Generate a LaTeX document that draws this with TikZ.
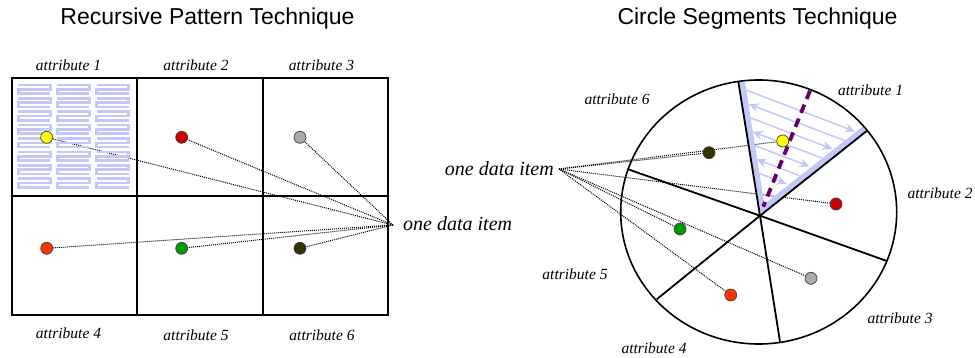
\documentclass[tikz,border=0pt]{standalone}
\usepackage{fontspec}
\setmainfont{Liberation Serif}
\newfontfamily\titlefont{Liberation Sans}
\usetikzlibrary{arrows.meta,calc}
\pgfdeclarelayer{bg}
\pgfsetlayers{bg,main}
\definecolor{patc}{RGB}{196,200,248}
\definecolor{dyellow}{RGB}{255,255,0}
\definecolor{dred}{RGB}{204,0,0}
\definecolor{dgray}{RGB}{170,170,170}
\definecolor{dorange}{RGB}{255,51,0}
\definecolor{dgreen}{RGB}{0,153,0}
\definecolor{ddark}{RGB}{51,51,0}
\definecolor{purp}{RGB}{102,0,102}
\begin{document}
\begin{tikzpicture}[x=1pt,y=-1pt,
  dot/.style={circle,draw=black!75,line width=0.7pt,inner sep=0pt,minimum size=12pt},
  dotline/.style={line width=1pt,dash pattern=on 1pt off 1pt},
  attr/.style={font=\fontsize{15.5}{18}\selectfont\itshape,inner sep=0pt},
  item/.style={font=\fontsize{20}{24}\selectfont\itshape,inner sep=0pt},
  ttl/.style={font=\titlefont\fontsize{23}{27}\selectfont,inner sep=0pt},
  patline/.style={draw=patc,line width=2.6pt},
  frame/.style={line width=2.2pt},
  seg/.style={line width=1.8pt},
]
\useasboundingbox (0,0) rectangle (975,358);

% titles
\node[ttl] (t1) at (207.5,19) {Recursive Pattern Technique};
\node[ttl] (t2) at (757.5,19) {Circle Segments Technique};

% ---------------- recursive pattern ----------------
\foreach \cx in {18.3,57.3,96.7}{
  \foreach \k in {0,...,7}{
    \draw[patline] ({\cx},{85+13.4*\k}) -- ++(32,0) -- ++(0,4.3) -- ++(-32,0) -- ++(0,4.3) -- ++(32,0);
  }
}
\draw[frame] (11.7,78.3) rectangle (388.3,315);
\draw[line width=1.8pt] (136.7,78.3) -- (136.7,315);
\draw[line width=1.8pt] (262.7,78.3) -- (262.7,315);
\draw[line width=2.8pt] (11.7,196) -- (388.3,196);

\node[dot,fill=dyellow] (a1) at (46.7,137.3) {};
\node[dot,fill=dred]    (a2) at (181.7,137.3) {};
\node[dot,fill=dgray]   (a3) at (300,137.3) {};
\node[dot,fill=dorange] (a4) at (46.7,248.3) {};
\node[dot,fill=dgreen]  (a5) at (181.7,248.3) {};
\node[dot,fill=ddark]   (a6) at (300,248.3) {};

\coordinate (p) at (393,225);
\node[item,anchor=west] (di1) at (403,224) {one data item};
\begin{pgfonlayer}{bg}
\foreach \n in {a1,a2,a3,a4,a5,a6}{ \draw[dotline] (p) -- (\n); }
\end{pgfonlayer}

\node[attr] (l1) at (68.5,65) {attribute 1};
\node[attr] (l2) at (196,65) {attribute 2};
\node[attr] (l3) at (321.5,65) {attribute 3};
\node[attr] (l4) at (68.5,333) {attribute 4};
\node[attr] (l5) at (196,335) {attribute 5};
\node[attr] (l6) at (322,335) {attribute 6};

% ---------------- circle segments ----------------
\begin{scope}
  \clip (758.7,212) ellipse [x radius=137, y radius=131];
  \draw[patc, line width=6pt, line join=round] (741.8,81.2) -- (762.2,209.4) -- (872,123);
  \coordinate (T) at (745,84);
  \coordinate (B) at (762,204);
  \coordinate (R) at (861,128);
  \foreach \t in {0.05,0.28,0.51,0.74}{
    \draw[patc, line width=1.5pt, -{Stealth[length=10pt,width=9pt]}, shorten >=1pt]
      ($(T)!\t!(B)$) -- ($(R)!\t!(B)$);
  }
  \foreach \t in {0.165,0.395,0.625}{
    \draw[patc, line width=1.5pt, -{Stealth[length=10pt,width=9pt]}, shorten >=1pt]
      ($(R)!\t!(B)$) -- ($(T)!\t!(B)$);
  }
\end{scope}

\draw[line width=1.6pt] (758.7,212) ellipse [x radius=138, y radius=132];
\coordinate (c) at (760,215.7);
\foreach \ex/\ey in {738.3/81.7, 866.7/131, 886/260.7, 780/341.7, 656.7/299.3, 627.3/169}{
  \draw[seg] (c) -- (\ex,\ey);
}

\coordinate (pd1) at (810,90.7);
\coordinate (pd2) at (763.3,206.7);
\draw[purp, line width=3.8pt, dash pattern=on 9pt off 6pt] (pd1) -- (pd2);

\node[dot,fill=ddark]   (b6) at (709,152.7) {};
\node[dot,fill=dyellow] (b1) at (782.7,141) {};
\node[dot,fill=dred]    (b2) at (836,204) {};
\node[dot,fill=dgray]   (b3) at (811,278.3) {};
\node[dot,fill=dorange] (b4) at (730.7,295) {};
\node[dot,fill=dgreen]  (b5) at (680,229) {};

\coordinate (q) at (559,169);
\node[item,anchor=east] (di2) at (554,169) {one data item};
\begin{pgfonlayer}{bg}
\foreach \n in {b1,b2,b3,b4,b5,b6}{ \draw[dotline] (q) -- (\n); }
\end{pgfonlayer}

\node[attr] (m1) at (870.5,90.7) {attribute 1};
\node[attr] (m2) at (940,193) {attribute 2};
\node[attr] (m3) at (900,318) {attribute 3};
\node[attr] (m4) at (654,348) {attribute 4};
\node[attr] (m5) at (575,274) {attribute 5};
\node[attr] (m6) at (617,99) {attribute 6};
\end{tikzpicture}
\end{document}
